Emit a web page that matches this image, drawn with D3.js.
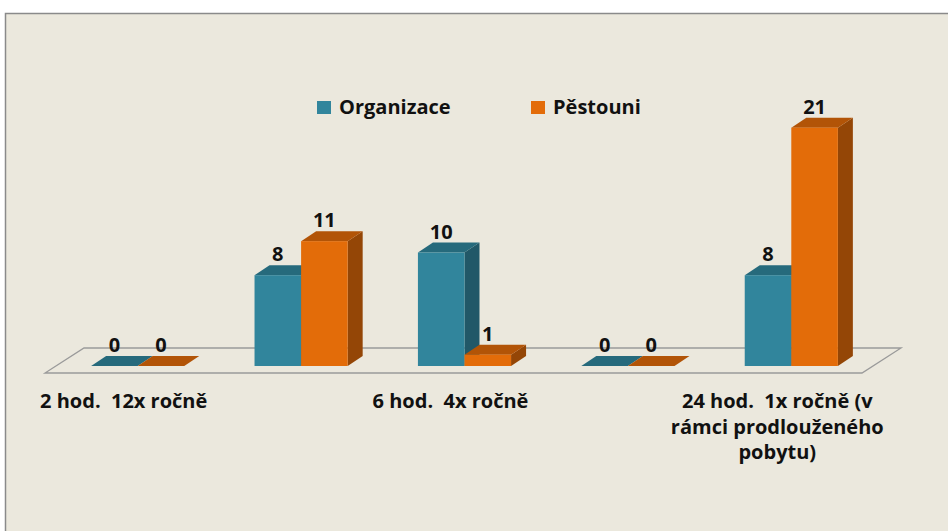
<!DOCTYPE html>
<html>
<head>
<meta charset="utf-8">
<script src="https://cdn.jsdelivr.net/npm/d3@7"></script>
<style>
  html, body { margin: 0; padding: 0; background: #ffffff; }
  svg { display: block; font-family: "Open Sans", "Noto Sans", sans-serif; }
</style>
</head>
<body>
<div id="chart"></div>
<script>
(function () {

	'use strict';

	// data
	var categories = ['2 hod. 12x ročně', '4 hod. 6x ročně', '6 hod. 4x ročně', '12 hod. 2x ročně', '24 hod. 1x ročně (v rámci prodlouženého pobytu)'];
	var seriesNames = ['Organizace', 'Pěstouni'];
	var organizace = [0, 8, 10, 0, 8];
	var pestouni = [0, 11, 1, 0, 21];
	// only every other category label is shown (as in the original)
	var tickLabels = [['2 hod.  12x ročně'], [], ['6 hod.  4x ročně'], [], ['24 hod.  1x ročně (v', 'rámci prodlouženého', 'pobytu)']];

	var colors = {
		'Organizace': { front: '#31859c', top: '#266a7c', side: '#215868' },
		'Pěstouni': { front: '#e36c09', top: '#b25407', side: '#944606' }
	};

	var width = 948, height = 531;
	var baseY = 366;           // front baseline of bars
	var depth = { dx: 15, dy: 10 };

	var svg = d3.select('#chart').append('svg')
		.attr('width', width)
		.attr('height', height);

	// chart area
	svg.append('rect')
		.attr('x', 5.5).attr('y', 13.5)
		.attr('width', width + 10).attr('height', height + 10)
		.attr('fill', '#ebe8dd')
		.attr('stroke', '#8a8a8a')
		.attr('stroke-width', 1.5);

	var x = d3.scaleBand()
		.domain(categories)
		.range([56, 873])
		.paddingInner(0.43)
		.paddingOuter(0.215);

	var xs = d3.scaleBand()
		.domain(seriesNames)
		.range([0, x.bandwidth()]);

	var y = d3.scaleLinear()
		.domain([0, 25])
		.range([baseY, baseY - 25 * 11.35]);

	// floor (outline only)
	var r = x.range();
	var fl = r[0] - 11, fr = r[1] - 11, fy = baseY + 7;
	var floor = [[fl, fy], [fr, fy], [fr + 39, fy - 25], [fl + 39, fy - 25]];
	svg.append('path')
		.attr('d', d3.line()(floor) + 'Z')
		.attr('fill', 'none')
		.attr('stroke', '#9a9a9a')
		.attr('stroke-width', 1.3);

	var rows = [];
	categories.forEach(function (c, i) {
		rows.push({ cat: c, name: 'Organizace', value: organizace[i] });
		rows.push({ cat: c, name: 'Pěstouni', value: pestouni[i] });
	});

	function pts(a) { return a.map(function (p) { return p.join(','); }).join(' '); }

	var bars = svg.append('g').selectAll('g.bar')
		.data(rows)
		.enter().append('g')
		.attr('class', 'bar');

	bars.each(function (d) {
		var g = d3.select(this);
		var x0 = x(d.cat) + xs(d.name), x1 = x0 + xs.bandwidth();
		var yt = y(d.value);
		var c = colors[d.name];
		// side
		g.append('polygon')
			.attr('points', pts([[x1, yt], [x1 + depth.dx, yt - depth.dy], [x1 + depth.dx, baseY - depth.dy], [x1, baseY]]))
			.attr('fill', c.side);
		// top
		g.append('polygon')
			.attr('points', pts([[x0, yt], [x0 + depth.dx, yt - depth.dy], [x1 + depth.dx, yt - depth.dy], [x1, yt]]))
			.attr('fill', c.top);
		// front
		if (d.value > 0) {
			g.append('rect')
				.attr('x', x0).attr('y', yt)
				.attr('width', x1 - x0).attr('height', baseY - yt)
				.attr('fill', c.front);
		}
	});

	// value labels
	svg.append('g').selectAll('text')
		.data(rows)
		.enter().append('text')
		.attr('x', function (d) { return x(d.cat) + xs(d.name) + xs.bandwidth() / 2; })
		.attr('y', function (d) { return y(d.value) - depth.dy - 4; })
		.attr('text-anchor', 'middle')
		.attr('font-size', 20)
		.attr('font-weight', 'bold')
		.attr('fill', '#111')
		.text(function (d) { return d.value; });

	// category labels
	var lab = svg.append('g').selectAll('text')
		.data(categories)
		.enter().append('text')
		.attr('text-anchor', 'middle')
		.attr('font-size', 20)
		.attr('font-weight', 'bold')
		.attr('fill', '#111')
		.style('white-space', 'pre');
	lab.each(function (c, i) {
		var t = d3.select(this);
		tickLabels[i].forEach(function (line, j) {
			t.append('tspan')
				.attr('x', x(c) + x.bandwidth() / 2 - 14)
				.attr('y', 408 + j * 25.5)
				.text(line);
		});
	});

	// legend
	var legX = [317, 531];
	var leg = svg.append('g').selectAll('g')
		.data(seriesNames)
		.enter().append('g')
		.attr('transform', function (d, i) { return 'translate(' + legX[i] + ',101)'; });
	leg.append('rect')
		.attr('width', 14).attr('height', 13)
		.attr('fill', function (d) { return colors[d].front; });
	leg.append('text')
		.attr('x', 22).attr('y', 13)
		.attr('font-size', 20)
		.attr('font-weight', 'bold')
		.attr('fill', '#111')
		.text(function (d) { return d; });

})();
</script>
</body>
</html>
